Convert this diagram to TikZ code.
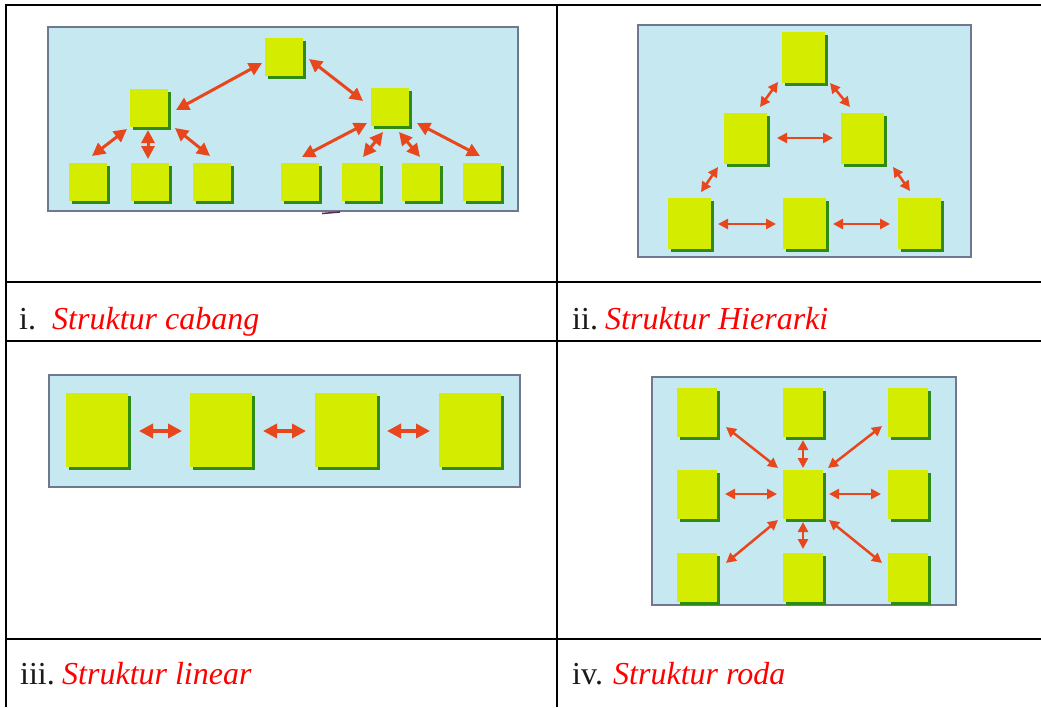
\documentclass[tikz,border=0pt]{standalone}
\usepackage{fontspec}
\setmainfont{Liberation Serif}
\usetikzlibrary{arrows.meta,shadows,calc}
\definecolor{panelblue}{HTML}{C6E8F0}
\definecolor{panelrim}{HTML}{707890}
\definecolor{boxyellow}{HTML}{D4EC00}
\definecolor{boxgreen}{HTML}{2E8A10}
\definecolor{arrred}{HTML}{E8461C}
\definecolor{labred}{HTML}{FF0000}
\definecolor{numblack}{HTML}{1A1A1A}
\definecolor{straymark}{HTML}{5A285A}
\begin{document}
\begin{tikzpicture}[x=1pt,y=-1pt,
  panel/.style={fill=panelblue, draw=panelrim, line width=1.5pt},
  blk/.style={rectangle, inner sep=0pt, fill=boxyellow,
    drop shadow={shadow xshift=3pt, shadow yshift=-3pt, fill=boxgreen, opacity=1}},
  boxA/.style={blk, minimum width=38pt, minimum height=38pt},
  boxB/.style={blk, minimum width=43pt, minimum height=51pt},
  boxC/.style={blk, minimum width=62pt, minimum height=74pt},
  boxD/.style={blk, minimum width=40pt, minimum height=49pt},
  arrA/.style={draw=arrred, line width=3pt, {Triangle[length=13pt,width=13pt]}-{Triangle[length=13pt,width=13pt]}},
  arrB/.style={draw=arrred, line width=2.5pt, {Triangle[length=10pt,width=10pt]}-{Triangle[length=10pt,width=10pt]}},
  arrC/.style={draw=arrred, line width=3.5pt, {Triangle[length=14pt,width=14pt]}-{Triangle[length=14pt,width=14pt]}},
  tline/.style={draw=black, line width=2pt},
  lab/.style={anchor=base west, inner sep=0pt, text=numblack, font=\fontsize{32}{36}\selectfont},
  ttl/.style={anchor=base west, inner sep=0pt, text=labred, font=\fontsize{32}{36}\selectfont\itshape}
]
\useasboundingbox (0,0) rectangle (1041,707);
\fill[white] (0,0) rectangle (1041,707);

% table grid
\draw[tline] (5,5) -- (1041,5);
\draw[tline] (6,4) -- (6,707);
\draw[tline] (557,4) -- (557,707);
\draw[tline] (5,282) -- (1041,282);
\draw[tline] (5,341) -- (1041,341);
\draw[tline] (5,639) -- (1041,639);

% ---------- panel i: cabang ----------
\draw[panel] (48,27) rectangle (518,211);
\draw[straymark, line width=1.5pt] (322,213.5) -- (340,212);
\node[boxA] (t) at (284,56.5) {};
\node[boxA] (l) at (149,107.5) {};
\node[boxA] (r) at (390,107) {};
\node[boxA] (b1) at (87.5,182) {};
\node[boxA] (b2) at (149.5,182) {};
\node[boxA] (b3) at (212,182) {};
\node[boxA] (b4) at (299.5,182) {};
\node[boxA] (b5) at (361,182) {};
\node[boxA] (b6) at (421,182) {};
\node[boxA] (b7) at (482,182) {};
\draw[arrA] ($(t)+(-22,6.5)$) -- ($(l)+(27,2.5)$);
\draw[arrA] ($(t)+(25,2.5)$) -- ($(r)+(-27,-6)$);
\draw[arrA] ($(l)+(-22,21.5)$) -- ($(b1)+(4.5,-26)$);
\draw[arrA] ($(l)+(-1,22.5)$) -- ($(b2)+(-1.5,-23)$);
\draw[arrA] ($(l)+(26,20.5)$) -- ($(b3)+(-2,-26)$);
\draw[arrA] ($(r)+(-23,16)$) -- ($(b4)+(2.5,-25)$);
\draw[arrA] ($(r)+(-7,25)$) -- ($(b5)+(2,-25)$);
\draw[arrA] ($(r)+(9,25)$) -- ($(b6)+(-1,-25)$);
\draw[arrA] ($(r)+(27,16)$) -- ($(b7)+(-2,-26)$);

% ---------- panel ii: hierarki ----------
\draw[panel] (638,25) rectangle (971,257);
\node[boxB] (ht) at (803.5,57.5) {};
\node[boxB] (hl) at (745.5,138.5) {};
\node[boxB] (hr) at (862.5,138.5) {};
\node[boxB] (hb1) at (689.5,223) {};
\node[boxB] (hb2) at (804,223) {};
\node[boxB] (hb3) at (919.5,223) {};
\draw[arrB] ($(ht)+(-25.5,24.5)$) -- ($(hl)+(14.5,-31.5)$);
\draw[arrB] ($(ht)+(26.5,25.5)$) -- ($(hr)+(-12.5,-31.5)$);
\draw[arrB] ($(hl)+(31.5,-0.5)$) -- ($(hr)+(-29.5,-0.5)$);
\draw[arrB] ($(hl)+(-27.5,28.5)$) -- ($(hb1)+(11.5,-31)$);
\draw[arrB] ($(hr)+(30.5,28.5)$) -- ($(hb3)+(-9.5,-32)$);
\draw[arrB] ($(hb1)+(28.5,1)$) -- ($(hb2)+(-28,1)$);
\draw[arrB] ($(hb2)+(29,1)$) -- ($(hb3)+(-29.5,1)$);

% ---------- panel iii: linear ----------
\draw[panel] (49,375) rectangle (520,487);
\node[boxC] (n1) at (97,430) {};
\node[boxC] (n2) at (221,430) {};
\node[boxC] (n3) at (346,430) {};
\node[boxC] (n4) at (469.5,430) {};
\draw[arrC] ($(n1)+(42,1)$) -- ($(n2)+(-39,1)$);
\draw[arrC] ($(n2)+(42,1)$) -- ($(n3)+(-40,1)$);
\draw[arrC] ($(n3)+(41,1)$) -- ($(n4)+(-39.5,1)$);

% ---------- panel iv: roda ----------
\draw[panel] (652,377) rectangle (956,605);
\node[boxD] (c11) at (697,412.5) {};
\node[boxD] (c12) at (803,412.5) {};
\node[boxD] (c13) at (908,412.5) {};
\node[boxD] (c21) at (697,494) {};
\node[boxD] (c22) at (803,494) {};
\node[boxD] (c23) at (908,494) {};
\node[boxD] (c31) at (697,577) {};
\node[boxD] (c32) at (803,577) {};
\node[boxD] (c33) at (908,577) {};
\draw[arrB] ($(c11)+(29,14.5)$) -- ($(c22)+(-25,-26)$);
\draw[arrB] ($(c12)+(0,27.5)$) -- ($(c22)+(0,-26)$);
\draw[arrB] ($(c13)+(-26,13.5)$) -- ($(c22)+(25,-26)$);
\draw[arrB] ($(c21)+(28,0)$) -- ($(c22)+(-26,0)$);
\draw[arrB] ($(c22)+(26,0)$) -- ($(c23)+(-27,0)$);
\draw[arrB] ($(c22)+(-25,26)$) -- ($(c31)+(29,-14)$);
\draw[arrB] ($(c22)+(0,28)$) -- ($(c32)+(0,-28)$);
\draw[arrB] ($(c22)+(26,26)$) -- ($(c33)+(-26,-14)$);

% ---------- labels ----------
\node[lab] (n-i) at (19,329) {i.};
\node[ttl] (t-i) at (52,329) {Struktur cabang};
\node[lab] (n-ii) at (572,329) {ii.};
\node[ttl] (t-ii) at (605,329) {Struktur Hierarki};
\node[lab] (n-iii) at (20,684) {iii.};
\node[ttl] (t-iii) at (62,684) {Struktur linear};
\node[lab] (n-iv) at (572,684) {iv.};
\node[ttl] (t-iv) at (613,684) {Struktur roda};
\end{tikzpicture}
\end{document}
